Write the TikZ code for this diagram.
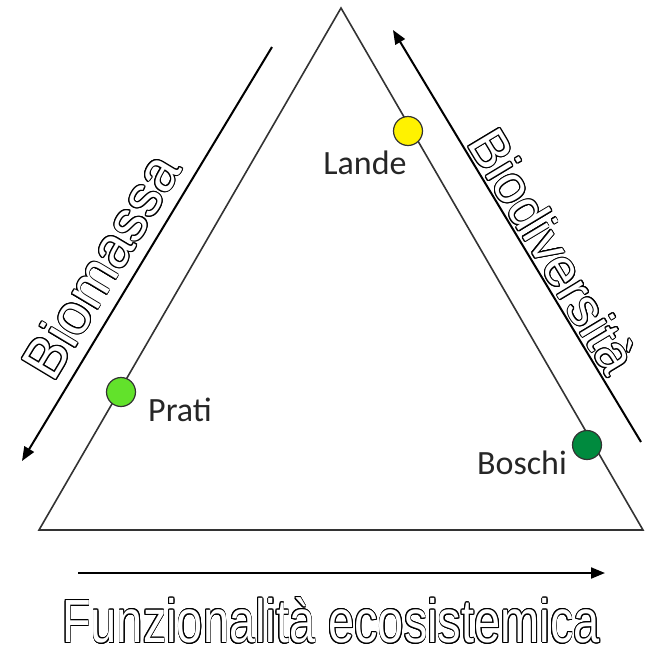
\documentclass[tikz,border=0pt]{standalone}
\usepackage{fontspec}
\setmainfont{Liberation Sans}
\newfontfamily\labelfont{Carlito}
\usepackage{contour}
\contourlength{1pt}
\newcommand{\hollow}[1]{\contour{black}{\textcolor{white}{#1}}}
\usetikzlibrary{arrows.meta}

\begin{document}
\begin{tikzpicture}[x=1pt,y=-1pt,
                    dot/.style={circle,draw=black!80,line width=1.2pt,minimum size=29pt,inner sep=0pt},
                    tag/.style={font=\labelfont\fontsize{34}{40}\selectfont,text=black!85,inner sep=0pt},
                    axis/.style={line width=2pt,-{Triangle[length=14pt,width=11pt]}},
                    hollow text/.style={font=\fontsize{57}{64}\selectfont,inner sep=0pt}
                   ]
  \useasboundingbox (0,0) rectangle (645,654);

  % triangle
  \coordinate (top) at (341,8);
  \coordinate (left) at (39,530);
  \coordinate (right) at (643,530);
  \draw[black!80,line width=1.6pt] (top) -- (left) -- (right) -- cycle;

  % arrows
  \coordinate (bio s) at (272,47);
  \coordinate (bio e) at (22,461);
  \coordinate (div s) at (641,442);
  \coordinate (div e) at (393,30);
  \coordinate (fun s) at (78,573);
  \coordinate (fun e) at (605,573);
  \draw[axis] (bio s) -- (bio e);
  \draw[axis] (div s) -- (div e);
  \draw[axis] (fun s) -- (fun e);

  % habitats
  \node[dot,fill=yellow] (lande) at (408,131) {};
  \node[dot,fill={rgb,255:red,98;green,226;blue,43}] (prati) at (121,392) {};
  \node[dot,fill={rgb,255:red,0;green,138;blue,62}] (boschi) at (587,445) {};
  \node[tag] (lande t) at (365,163) {Lande};
  \node[tag] (prati t) at (180,410) {Prati};
  \node[tag] (boschi t) at (522,463) {Boschi};

  % axis titles
  \node[hollow text,rotate=59] (biomassa) at (101,266) {\hollow{Biomassa}};
  \node[hollow text,font=\fontsize{53}{60}\selectfont,rotate=-59] (biodiv) at (553,251) {\hollow{Biodiversità}};
  \node[hollow text,font=\fontsize{61}{70}\selectfont,xscale=0.77] (funz) at (331,621) {\hollow{Funzionalità ecosistemica}};
\end{tikzpicture}
\end{document}
